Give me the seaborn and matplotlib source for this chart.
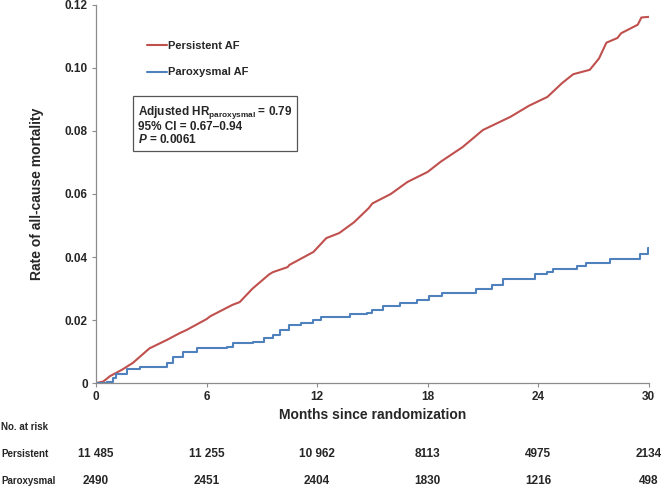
import numpy as np
import pandas as pd
import seaborn as sns
import matplotlib.pyplot as plt

# cumulative mortality
persistent_months = [0, 0.4, 0.76, 1.4, 2.0, 2.9, 3.85, 4.56, 4.9, 6.0, 6.2, 7.4, 7.8, 8.5, 9.4,
                     9.6, 10.4, 10.5, 11.8, 12.5, 13.2, 14.0, 14.8, 15.0, 16.0, 16.9, 18.0, 18.7,
                     19.9, 21.0, 22.5, 23.5, 24.5, 25.3, 25.9, 26.8, 27.3, 27.7, 28.3, 28.5, 29.4,
                     29.6, 30.0]
persistent_rate = [0, 0.0005, 0.0022, 0.0042, 0.0064, 0.011, 0.0137, 0.0159, 0.0168, 0.0203, 0.0212,
                   0.0248, 0.0257, 0.0300, 0.0345, 0.0352, 0.0368, 0.0375, 0.0416, 0.046, 0.0476,
                   0.051, 0.0555, 0.057, 0.060, 0.0638, 0.067, 0.0702, 0.0749, 0.0803, 0.0845,
                   0.088, 0.0908, 0.0952, 0.098, 0.0994, 0.103, 0.108, 0.1095, 0.111, 0.1137,
                   0.116, 0.1162]

paroxysmal_months = [0, 0.6, 0.9, 1.1, 1.7, 2.4, 3.85, 4.2, 4.7, 5.5, 7.1, 7.45, 8.5, 9.1, 9.6,
                     10.0, 10.5, 11.1, 11.8, 12.2, 13.8, 14.7, 15.0, 15.6, 16.5, 17.4, 18.1, 18.8,
                     20.6, 21.5, 22.1, 23.8, 24.5, 24.8, 26.1, 26.6, 27.9, 29.5, 29.95, 30.0]
paroxysmal_rate = [0, 0.0005, 0.0015, 0.003, 0.0045, 0.005, 0.0063, 0.0083, 0.0099, 0.011, 0.0114,
                   0.0128, 0.013, 0.0142, 0.0152, 0.0169, 0.0183, 0.019, 0.020, 0.0209, 0.022,
                   0.0222, 0.0232, 0.0245, 0.0254, 0.0264, 0.0277, 0.0286, 0.0298, 0.031, 0.033,
                   0.0346, 0.0352, 0.0361, 0.037, 0.038, 0.0394, 0.041, 0.043, 0.043]

x_ticks = [0, 6, 12, 18, 24, 30]
y_ticks = [0, 0.02, 0.04, 0.06, 0.08, 0.10, 0.12]
y_tick_labels = ['0', '0.02', '0.04', '0.06', '0.08', '0.10', '0.12']

risk_persistent = ['11 485', '11 255', '10 962', '8113', '4975', '2134']
risk_paroxysmal = ['2490', '2451', '2404', '1830', '1216', '498']

red = '#C0504D'
blue = '#4F81BD'
grey = '#8C8C8C'

sns.set_theme(style='white')
plt.rcParams['font.family'] = ['Liberation Sans', 'DejaVu Sans']
plt.rcParams['font.weight'] = 'bold'
plt.rcParams['mathtext.fontset'] = 'custom'
plt.rcParams['mathtext.rm'] = 'Liberation Sans:bold'
plt.rcParams['mathtext.bf'] = 'Liberation Sans:bold'
plt.rcParams['mathtext.it'] = 'Liberation Sans:bold:italic'

pers = pd.DataFrame({'month': persistent_months, 'rate': persistent_rate})
parox = pd.DataFrame({'month': paroxysmal_months, 'rate': paroxysmal_rate})

fig = plt.figure(figsize=(6.62, 4.88), dpi=100)
ax = fig.add_axes([0.145, 0.215, 0.835, 0.775])

sns.lineplot(x='month', y='rate', data=pers, ax=ax, color=red, lw=1.5,
             label='Persistent AF')
sns.lineplot(x='month', y='rate', data=parox, ax=ax, color=blue, lw=1.5,
             drawstyle='steps-post', label='Paroxysmal AF')

ax.set_xlim(0, 30)
ax.set_ylim(0, 0.12)
ax.set_xticks(x_ticks)
ax.set_xticklabels([str(t) for t in x_ticks], fontsize=8.5, fontweight='bold')
ax.set_yticks(y_ticks)
ax.set_yticklabels(y_tick_labels, fontsize=8.5, fontweight='bold')
ax.tick_params(axis='both', direction='out', length=3, width=0.8, color=grey, pad=3)
ax.xaxis.set_ticks_position('bottom')
ax.yaxis.set_ticks_position('left')

for side in ['top', 'right']:
    ax.spines[side].set_visible(False)
for side in ['left', 'bottom']:
    ax.spines[side].set_color(grey)
    ax.spines[side].set_linewidth(0.9)

ax.set_xlabel('Months since randomization', fontsize=10, fontweight='bold', labelpad=3)
ax.set_ylabel('Rate of all-cause mortality', fontsize=10, fontweight='bold', labelpad=15)

ax.legend(loc='upper left', bbox_to_anchor=(0.074, 0.93), frameon=False, fontsize=8,
          handlelength=1.8, handletextpad=0.1, labelspacing=1.45)

ax.text(0.076, 0.738,
        'Adjusted HR$_{\\mathrm{paroxysmal}}$ = 0.79\n95% CI = 0.67\u20130.94\n$P$ = 0.0061',
        transform=ax.transAxes, fontsize=8.5, fontweight='bold', va='top', ha='left',
        linespacing=1.02,
        bbox=dict(boxstyle='square,pad=0.4', fc='white', ec='#555555', lw=0.9))

# risk table under the axis
trans = ax.get_xaxis_transform()
fig.text(0.002, 1 - 427 / 488, 'No. at risk', fontsize=7, fontweight='bold', va='center')
fig.text(0.002, 1 - 454 / 488, 'Persistent', fontsize=7, fontweight='bold', va='center')
fig.text(0.002, 1 - 481 / 488, 'Paroxysmal', fontsize=7, fontweight='bold', va='center')
for t, a, b in zip(x_ticks, risk_persistent, risk_paroxysmal):
    ax.text(t, -0.188, a, transform=trans, ha='center', va='center', fontsize=8.5,
            fontweight='bold', clip_on=False)
    ax.text(t, -0.259, b, transform=trans, ha='center', va='center', fontsize=8.5,
            fontweight='bold', clip_on=False)

plt.savefig('out.png', dpi=100)
plt.close()
